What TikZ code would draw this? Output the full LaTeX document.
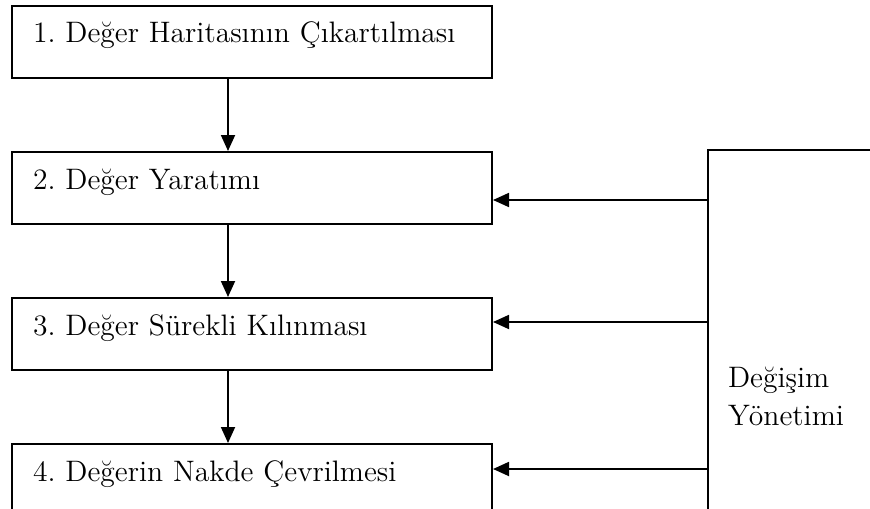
\documentclass[tikz,border=0pt]{standalone}
\usetikzlibrary{arrows.meta,positioning}
\frenchspacing
\tikzset{
  stepbox/.style={draw, line width=1pt, anchor=north west, inner xsep=10.5pt, inner ysep=0pt,
    text width=219pt, align=left, text height=18.5pt, text depth=17.5pt,
    font=\fontsize{14.8}{19}\selectfont},
  changebox/.style={draw, line width=1pt, anchor=north west, inner xsep=10pt,
    text width=120pt, align=left, minimum height=246pt,
    font=\fontsize{14.8}{19}\selectfont},
  flow/.style={line width=0.9pt, -{Triangle[length=8pt,width=7pt]}}
}
\begin{document}
\begin{tikzpicture}[x=0.5pt,y=-0.5pt]
\clip (0,0) rectangle (870,508);
% steps:
\node[stepbox] (b1) at (11,5) {1. Değer Haritasının Çıkartılması};
\node[stepbox, below=36pt of b1] (b2) {2. Değer Yaratımı};
\node[stepbox, below=36pt of b2] (b3) {3. Değer Sürekli Kılınması};
\node[stepbox, below=36pt of b3] (b4) {4. Değerin Nakde Çevrilmesi};
% change management:
\node[changebox] (yon) at (707,149) {Değişim\\Yönetimi};
% flow down:
\draw[flow] ([xshift=-12pt]b1.south) -- ([xshift=-12pt]b2.north);
\draw[flow] ([xshift=-12pt]b2.south) -- ([xshift=-12pt]b3.north);
\draw[flow] ([xshift=-12pt]b3.south) -- ([xshift=-12pt]b4.north);
% feedback:
\coordinate (in2) at ([yshift=-6pt]b2.east);
\coordinate (in3) at ([yshift=6pt]b3.east);
\coordinate (in4) at ([yshift=5.5pt]b4.east);
\draw[flow] (yon.west |- in2) -- (in2);
\draw[flow] (yon.west |- in3) -- (in3);
\draw[flow] (yon.west |- in4) -- (in4);
\end{tikzpicture}
\end{document}
